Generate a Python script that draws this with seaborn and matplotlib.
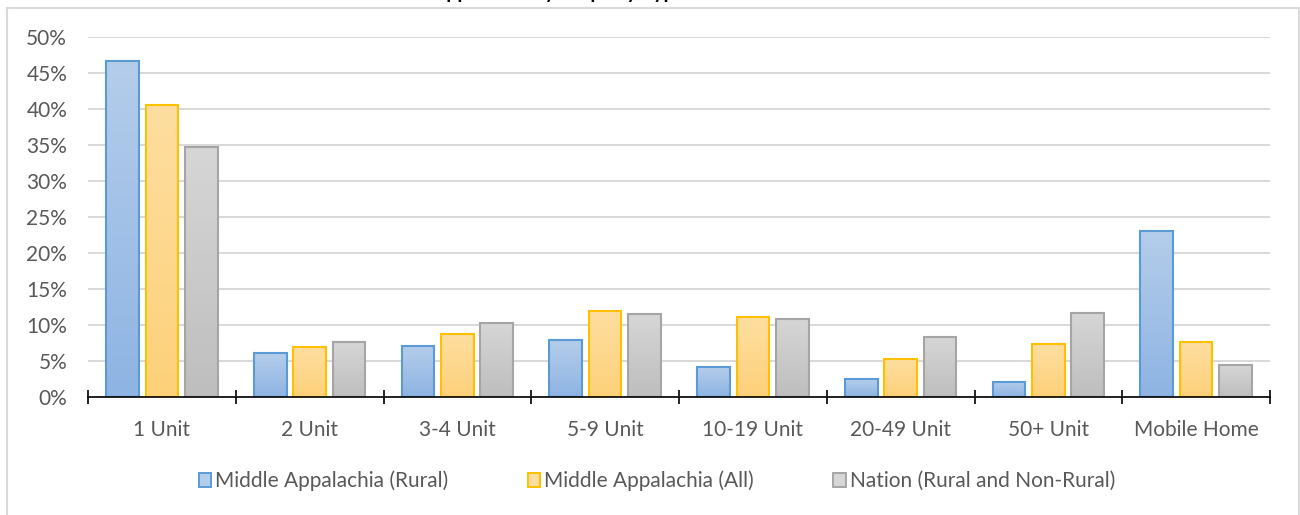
import numpy as np
import pandas as pd
import matplotlib
matplotlib.use("Agg")
import matplotlib.pyplot as plt
import seaborn as sns
from matplotlib.colors import LinearSegmentedColormap
from matplotlib.lines import Line2D
from matplotlib.patches import Patch

categories = ["1 Unit", "2 Unit", "3-4 Unit", "5-9 Unit", "10-19 Unit", "20-49 Unit", "50+ Unit", "Mobile Home"]
series = ["Middle Appalachia (Rural)", "Middle Appalachia (All)", "Nation (Rural and Non-Rural)"]
rural = [46.7, 6.1, 7.1, 7.9, 4.1, 2.5, 2.1, 23.1]
all_ma = [40.6, 6.9, 8.8, 12.0, 11.1, 5.3, 7.3, 7.6]
nation = [34.7, 7.6, 10.3, 11.5, 10.9, 8.3, 11.7, 4.4]
title = "Middle Appalachia by Property Type"

fills_top = ["#b4cdea", "#fedea0", "#d6d6d6"]
fills_bot = ["#8eb4e3", "#fdd17a", "#bebebe"]
edges = ["#5b9bd5", "#ffc000", "#a5a5a5"]

df = pd.DataFrame({
    "cat": np.tile(categories, 3),
    "series": np.repeat(series, len(categories)),
    "val": rural + all_ma + nation,
})

sns.set_theme(style="white")
plt.rcParams["font.family"] = ["Lato", "DejaVu Sans"]

fig = plt.figure(figsize=(13, 5.15), dpi=100)
ax = fig.add_axes([88/1300, 1-397/515, (1270-88)/1300, (397-37)/515])

sns.barplot(data=df, x="cat", y="val", hue="series", order=categories, hue_order=series,
            palette=fills_bot, width=0.8, gap=0.17, ax=ax, legend=False, saturation=1)

for i, cont in enumerate(ax.containers):
    cmap = LinearSegmentedColormap.from_list(f"g{i}", [fills_bot[i], fills_top[i]])
    for p in cont.patches:
        x, y = p.get_x(), p.get_y()
        w, h = p.get_width(), p.get_height()
        p.set_facecolor("none")
        p.set_edgecolor(edges[i])
        p.set_linewidth(1.5)
        p.set_zorder(3)
        grad = np.linspace(0, 1, 100).reshape(-1, 1)
        im = ax.imshow(grad, extent=[x, x + w, y, y + h], origin="lower", aspect="auto",
                       cmap=cmap, zorder=2.5)
        im.set_clip_path(p)

ax.set_xlim(-0.5, len(categories) - 0.5)
ax.set_ylim(0, 50)
ax.set_yticks(np.arange(0, 51, 5))
ax.set_yticklabels([f"{v}%" for v in range(0, 51, 5)])
ax.yaxis.grid(True, color="#d9d9d9", linewidth=1.4)
ax.set_axisbelow(True)
for s in ["top", "right", "left"]:
    ax.spines[s].set_visible(False)
ax.spines["bottom"].set_color("black")
ax.spines["bottom"].set_linewidth(1.2)
ax.spines["bottom"].set_zorder(4)
ax.set_xlabel("")
ax.set_ylabel("")
ax.tick_params(axis="y", length=0, pad=15, labelsize=15, labelcolor="#595959")
ax.tick_params(axis="x", which="major", length=0, pad=16.5, labelsize=15, labelcolor="#595959")
ax.set_xticks(np.arange(-0.5, len(categories)), minor=True)
ax.tick_params(axis="x", which="minor", direction="inout", length=10, width=1.2, color="black", bottom=True)

handles = [Patch(facecolor=fills_top[i], edgecolor=edges[i], linewidth=1.4, label=series[i]) for i in range(3)]
fig.legend(handles=handles, loc="center", bbox_to_anchor=(657/1300, 1-481/515), ncol=3, frameon=False,
           fontsize=15, labelcolor="#595959", handlelength=0.6, handleheight=0.6,
           handletextpad=0.2, columnspacing=3.8)

# outer chart border
bc = "#d9d9d9"
fig.add_artist(Line2D([7/1300, 1299/1300], [1-8/515, 1-8/515], color=bc, linewidth=1.5, transform=fig.transFigure))
fig.add_artist(Line2D([7/1300, 7/1300], [1-8/515, 0], color=bc, linewidth=1.5, transform=fig.transFigure))
fig.add_artist(Line2D([1299/1300, 1299/1300], [1-8/515, 0], color=bc, linewidth=1.5, transform=fig.transFigure))

fig.text(367/1300, 1 + 1/515, title, ha="left", va="baseline", fontsize=14, fontweight="bold", color="black")

fig.savefig("out.png", dpi=100)
